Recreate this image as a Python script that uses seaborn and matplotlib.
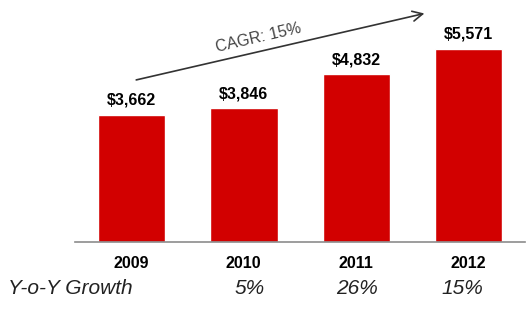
import matplotlib
matplotlib.use("Agg")
import matplotlib.pyplot as plt
import seaborn as sns
import pandas as pd
from matplotlib.ticker import FixedLocator

# ---------------------------
# DATA
# ---------------------------
years = ["2009", "2010", "2011", "2012"]
revenue = [3662, 3846, 4832, 5571]
value_labels = ["$3,662", "$3,846", "$4,832", "$5,571"]
growth_labels = ["", "5%", "26%", "15%"]
cagr_label = "CAGR: 15%"

df = pd.DataFrame({"Year": years, "Revenue": revenue})

sns.set_theme(style="white")
plt.rcParams["font.family"] = ["Liberation Sans", "DejaVu Sans"]

RED = "#D20000"

fig = plt.figure(figsize=(5.30, 3.17), dpi=100)
ax = fig.add_axes([75 / 530, 1 - 242 / 317, 450 / 530, 242 / 317])

sns.barplot(data=df, x="Year", y="Revenue", color=RED, width=0.6,
            saturation=1, ax=ax, zorder=2)

ax.set_xlim(-0.5, 3.5)
ax.set_ylim(0, 6970)
ax.set_xlabel("")
ax.set_ylabel("")
ax.set_yticks([])

for s in ["top", "right", "left"]:
    ax.spines[s].set_visible(False)
ax.spines["bottom"].set_color("#8c8c8c")
ax.spines["bottom"].set_linewidth(1.2)

# major ticks carry the year labels, minor ticks mark category boundaries
ax.tick_params(axis="x", which="major", length=0, pad=10)
ax.xaxis.set_minor_locator(FixedLocator([-0.5, 0.5, 1.5, 2.5, 3.5]))
ax.tick_params(axis="x", which="minor", length=6, direction="inout",
               color="#8c8c8c", width=1.2)
for lab in ax.get_xticklabels():
    lab.set_fontweight("bold")
    lab.set_fontsize(11.5)
    lab.set_color("black")

# value labels
for i, (v, txt) in enumerate(zip(revenue, value_labels)):
    ax.text(i, v + 200, txt, ha="center", va="bottom", fontsize=11.5,
            fontweight="bold", color="black")

# CAGR arrow
ax.annotate("", xy=(2.63, 6600), xytext=(0.02, 4650),
            arrowprops=dict(arrowstyle="->", color="#333333", lw=1.2,
                            mutation_scale=18))
ax.text(1.13, 5880, cagr_label, ha="center", va="center", rotation=13,
        fontsize=11.5, color="#444444")

# Y-o-Y growth row
row_y = 1 - 289 / 317
fig.text(8 / 530, row_y, "Y-o-Y Growth", ha="left", va="center",
         fontsize=15, style="italic", color="#222222")
for i, g in enumerate(growth_labels):
    if g:
        xpix = [0, 250, 357, 462][i]
        fig.text(xpix / 530, row_y, g, ha="center", va="center",
                 fontsize=15, style="italic", color="#222222")

fig.savefig("out.png", dpi=100)
